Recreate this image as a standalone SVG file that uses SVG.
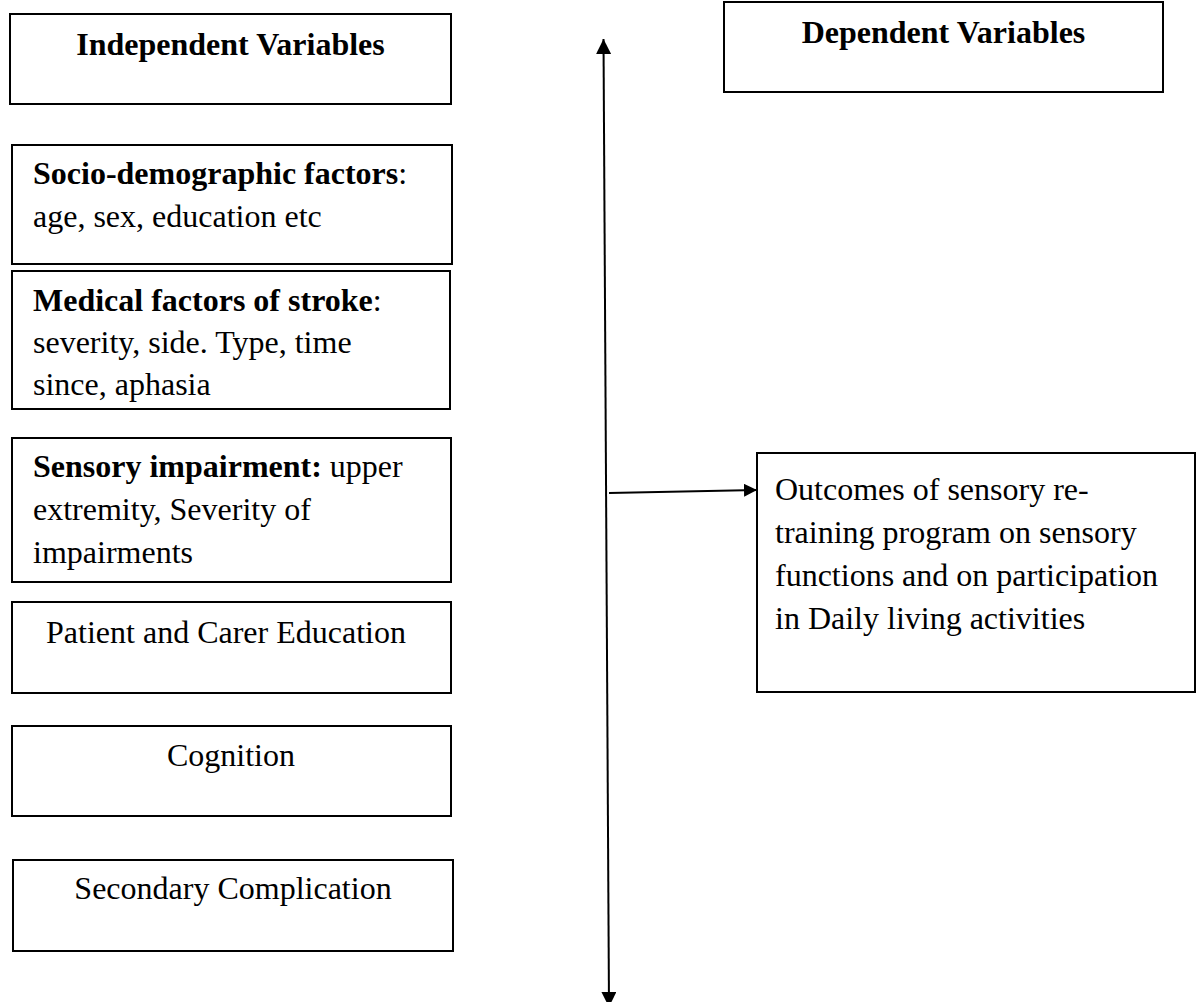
<svg xmlns="http://www.w3.org/2000/svg" width="1198" height="1002" viewBox="0 0 1198 1002">
<style>
.box{fill:#fff;stroke:#000;stroke-width:2}
.t{font-family:"Liberation Serif","Times New Roman",serif;font-size:32px;fill:#000}
.b{font-weight:bold}
.c{text-anchor:middle}
.ln{stroke:#000;stroke-width:2;fill:none}
</style>
<defs>
<marker id="ah" viewBox="0 0 15 15" refX="15" refY="7.5" markerWidth="15" markerHeight="15" markerUnits="userSpaceOnUse" orient="auto-start-reverse">
<path d="M0,0 L15,7.5 L0,15 z" fill="#000"/>
</marker>
<marker id="ah2" viewBox="0 0 13 13" refX="13" refY="6.5" markerWidth="13" markerHeight="13" markerUnits="userSpaceOnUse" orient="auto">
<path d="M0,0 L13,6.5 L0,13 z" fill="#000"/>
</marker>
</defs>
<rect width="1198" height="1002" fill="#fff"/>
<g id="connectors">
<line class="ln" x1="603.5" y1="39" x2="609" y2="1007" marker-start="url(#ah)" marker-end="url(#ah)"/>
<line class="ln" x1="609" y1="493" x2="757" y2="490" marker-end="url(#ah2)"/>
</g>
<g id="independent">
<rect class="box" x="10" y="14" width="441" height="90"/>
<text class="t b c" x="230.5" y="55">Independent Variables</text>
</g>
<g id="dependent">
<rect class="box" x="724" y="2" width="439" height="90"/>
<text class="t b c" x="943.5" y="43">Dependent Variables</text>
</g>
<g id="socio">
<rect class="box" x="12" y="145" width="440" height="119"/>
<text class="t" x="33" y="184"><tspan class="b">Socio-demographic factors</tspan>:</text>
<text class="t" x="33" y="227">age, sex, education etc</text>
</g>
<g id="medical">
<rect class="box" x="12" y="271" width="438" height="138"/>
<text class="t" x="33" y="311"><tspan class="b">Medical factors of stroke</tspan>:</text>
<text class="t" x="33" y="353">severity, side. Type, time</text>
<text class="t" x="33" y="395">since, aphasia</text>
</g>
<g id="sensory">
<rect class="box" x="12" y="438" width="439" height="144"/>
<text class="t" x="33" y="477"><tspan class="b">Sensory impairment:</tspan> upper</text>
<text class="t" x="33" y="520">extremity, Severity of</text>
<text class="t" x="33" y="563">impairments</text>
</g>
<g id="patient">
<rect class="box" x="12" y="602" width="439" height="91"/>
<text class="t c" x="226" y="643">Patient and Carer Education</text>
</g>
<g id="cognition">
<rect class="box" x="12" y="726" width="439" height="90"/>
<text class="t c" x="231" y="766">Cognition</text>
</g>
<g id="secondary">
<rect class="box" x="13" y="860" width="440" height="91"/>
<text class="t c" x="233" y="899">Secondary Complication</text>
</g>
<g id="outcomes">
<rect class="box" x="757" y="453" width="438" height="239"/>
<text class="t" x="775" y="500">Outcomes of sensory re-</text>
<text class="t" x="775" y="543">training program on sensory</text>
<text class="t" x="775" y="586">functions and on participation</text>
<text class="t" x="775" y="629">in Daily living activities</text>
</g>
</svg>
